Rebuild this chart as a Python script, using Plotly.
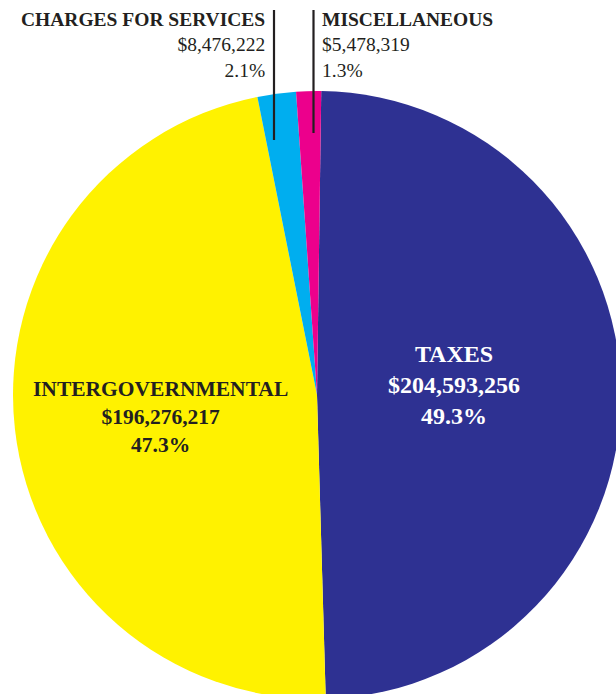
import plotly.graph_objects as go

labels = ["TAXES", "INTERGOVERNMENTAL", "CHARGES FOR SERVICES", "MISCELLANEOUS"]
values = [204593256, 196276217, 8476222, 5478319]
pct_labels = ["49.3%", "47.3%", "2.1%", "1.3%"]
colors = ["#2E3192", "#FFF200", "#00AEEF", "#EC008C"]

# figure slightly larger than the 616x694 window so the pie can bleed off the edges
W, H = 622, 700
FONT = "Liberation Serif"
DARK = "#231F20"

def money(v):
    return "${:,}".format(v)

def px(x):
    return x / W

def py(y):
    return 1 - y / H

fig = go.Figure()
fig.add_trace(go.Pie(
    labels=labels,
    values=values,
    sort=False,
    direction="clockwise",
    rotation=0.8,
    marker=dict(colors=colors, line=dict(width=0)),
    textinfo="none",
    hoverinfo="label+value+percent",
    showlegend=False,
    domain=dict(x=[13 / W, 621 / W], y=[1 / H, 609 / H]),
))

# inside labels
fig.add_annotation(
    x=px(453.5), y=py(385), xref="paper", yref="paper",
    text="<b>{}<br>{}<br>{}</b>".format(labels[0], money(values[0]), pct_labels[0]),
    showarrow=False, font=dict(family=FONT, size=24, color="white"),
    align="center", xanchor="center", yanchor="middle",
)
fig.add_annotation(
    x=px(160.5), y=py(417), xref="paper", yref="paper",
    text="<b>{}<br>{}<br>{}</b>".format(labels[1], money(values[1]), pct_labels[1]),
    showarrow=False, font=dict(family=FONT, size=21.5, color=DARK),
    align="center", xanchor="center", yanchor="middle",
)
# outside labels
fig.add_annotation(
    x=px(267), y=py(45), xref="paper", yref="paper",
    text="<b>{}</b><br>{}<br>{}".format(labels[2], money(values[2]), pct_labels[2]),
    showarrow=False, font=dict(family=FONT, size=19.5, color=DARK),
    align="right", xanchor="right", yanchor="middle",
)
fig.add_annotation(
    x=px(320), y=py(45), xref="paper", yref="paper",
    text="<b>{}</b><br>{}<br>{}".format(labels[3], money(values[3]), pct_labels[3]),
    showarrow=False, font=dict(family=FONT, size=19.5, color=DARK),
    align="left", xanchor="left", yanchor="middle",
)
# leader lines
fig.add_shape(type="line", xref="paper", yref="paper",
              x0=px(274), x1=px(274), y0=py(10), y1=py(140),
              line=dict(color=DARK, width=2.2))
fig.add_shape(type="line", xref="paper", yref="paper",
              x0=px(313.5), x1=px(313.5), y0=py(10), y1=py(133),
              line=dict(color=DARK, width=2.2))

fig.update_layout(
    width=W, height=H,
    margin=dict(l=0, r=0, t=0, b=0),
    paper_bgcolor="white", plot_bgcolor="white",
)

fig.write_html(
    "out.html",
    config={"displayModeBar": False},
    post_script="document.body.style.margin='0';document.body.style.overflow='hidden';",
)
